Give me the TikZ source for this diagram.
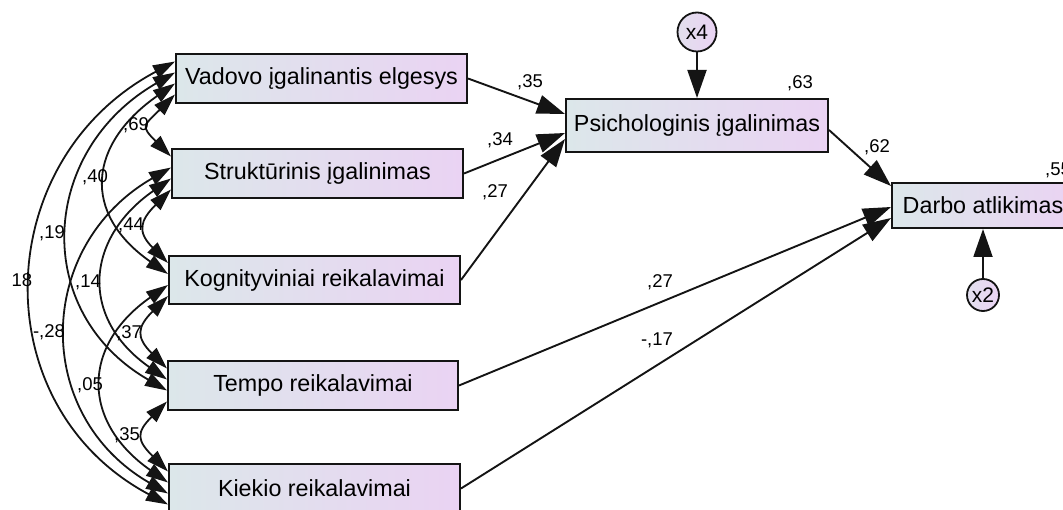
\documentclass[tikz,border=0pt]{standalone}
\usepackage{fontspec}
\setmainfont{Liberation Sans}
\usetikzlibrary{arrows.meta}

\definecolor{boxL}{HTML}{DCE7EA}
\definecolor{boxR}{HTML}{EAD3F3}
\definecolor{edge}{HTML}{141414}

\tikzset{
  var/.style={rectangle, draw=edge, line width=2pt, left color=boxL, right color=boxR,
              inner sep=0pt, font=\fontsize{23.3}{28}\selectfont},
  err/.style={circle, draw=edge, line width=1.8pt, left color=boxL!60!boxR, right color=boxR,
              inner sep=0pt, minimum size=#1, font=\fontsize{21}{25}\selectfont},
  regr/.style={-{Triangle[length=28pt,width=19pt]}, line width=1.9pt, draw=edge},
  cov/.style={{Triangle[length=22pt,width=14pt]}-{Triangle[length=22pt,width=14pt]},
              line width=1.8pt, draw=edge},
  coef/.style={font=\fontsize{18.5}{22}\selectfont, inner sep=0pt},
  span1/.style={out=225, in=135, distance=44pt},
  span2/.style={out=215, in=145, distance=106pt},
  span3/.style={out=210, in=150, distance=157pt},
  span4/.style={out=208, in=152, distance=210pt},
}

\begin{document}
\begin{tikzpicture}[x=1pt,y=1pt]
\useasboundingbox (0,0) rectangle (1063,-510);
\clip (0,0) rectangle (1063,-510);

% exogenous variables
\node[var, minimum width=291pt, minimum height=49pt] (V)  at (321.5,-78.5)  {Vadovo įgalinantis elgesys};
\node[var, minimum width=291pt, minimum height=49pt] (S)  at (317.5,-173.5) {Struktūrinis įgalinimas};
\node[var, minimum width=291pt, minimum height=48pt] (K)  at (314.5,-280)   {Kognityviniai reikalavimai};
\node[var, minimum width=290pt, minimum height=49pt] (T)  at (313,-385.5)   {Tempo reikalavimai};
\node[var, minimum width=291pt, minimum height=49pt] (Ki) at (314.5,-488.5) {Kiekio reikalavimai};

% endogenous variables
\node[var, minimum width=262pt, minimum height=53pt] (P) at (697,-125.5) {Psichologinis įgalinimas};
\node[var, minimum width=182pt, minimum height=45pt] (D) at (983,-205.5) {Darbo atlikimas};

% residuals
\node[err=39pt] (x4) at (697,-32) {x4};
\node[err=32pt] (x2) at (983,-295) {x2};

% regression paths
\draw[regr] (V.east) -- ([yshift=11.5pt]P.west);
\draw[regr] (S.east) -- ([yshift=-7.5pt]P.west);
\draw[regr] (K.east) -- ([yshift=-13.5pt]P.west);
\draw[regr] ([yshift=-4.5pt]P.east) -- ([yshift=-4pt]D.north west);
\draw[regr] (T.east) -- ([yshift=-1.5pt]D.west);
\draw[regr] (Ki.east) -- ([yshift=-12.5pt]D.west);
\draw[regr] (x4.south) -- (P.north);
\draw[regr] (x2.north) -- (D.south);

% covariances between the exogenous variables
\draw[cov] ([yshift=-16pt]V.west) to[span1] ([yshift=17pt]S.west);
\draw[cov] ([yshift=-16pt]S.west) to[span1] ([yshift=17pt]K.west);
\draw[cov] ([yshift=-16pt]K.west) to[span1] ([yshift=17pt]T.west);
\draw[cov] ([yshift=-16pt]T.west) to[span1] ([yshift=17pt]Ki.west);

\draw[cov] ([yshift=-5pt]V.west) to[span2] ([yshift=6pt]K.west);
\draw[cov] ([yshift=-5pt]S.west) to[span2] ([yshift=6pt]T.west);
\draw[cov] ([yshift=-5pt]K.west) to[span2] ([yshift=6pt]Ki.west);

\draw[cov] ([yshift=6pt]V.west) to[span3] ([yshift=-5pt]T.west);
\draw[cov] ([yshift=6pt]S.west) to[span3] ([yshift=-5pt]Ki.west);

\draw[cov] ([yshift=17pt]V.west) to[span4] ([yshift=-16pt]Ki.west);

% covariance estimates
\node[coef] (c69) at (136,-125) {,69};
\node[coef] (c40) at (95,-177)  {,40};
\node[coef] (c44) at (131,-225) {,44};
\node[coef] (c19) at (52,-233)  {,19};
\node[coef] (c18) at (22,-280)  {18};
\node[coef] (c14) at (88,-282)  {,14};
\node[coef] (c28) at (49,-332)  {-,28};
\node[coef] (c37) at (129,-333) {,37};
\node[coef] (c05) at (90,-385)  {,05};
\node[coef] (c35b) at (127,-435) {,35};

% path coefficients and explained variance
\node[coef] (p35) at (530,-82)  {,35};
\node[coef] (p34) at (500,-140) {,34};
\node[coef] (p27) at (495,-192) {,27};
\node[coef] (r63) at (800,-83)  {,63};
\node[coef] (p62) at (877,-147) {,62};
\node[coef] (r55) at (1058,-170) {,55};
\node[coef] (q27) at (660,-282) {,27};
\node[coef] (q17) at (657,-340) {-,17};
\end{tikzpicture}
\end{document}
